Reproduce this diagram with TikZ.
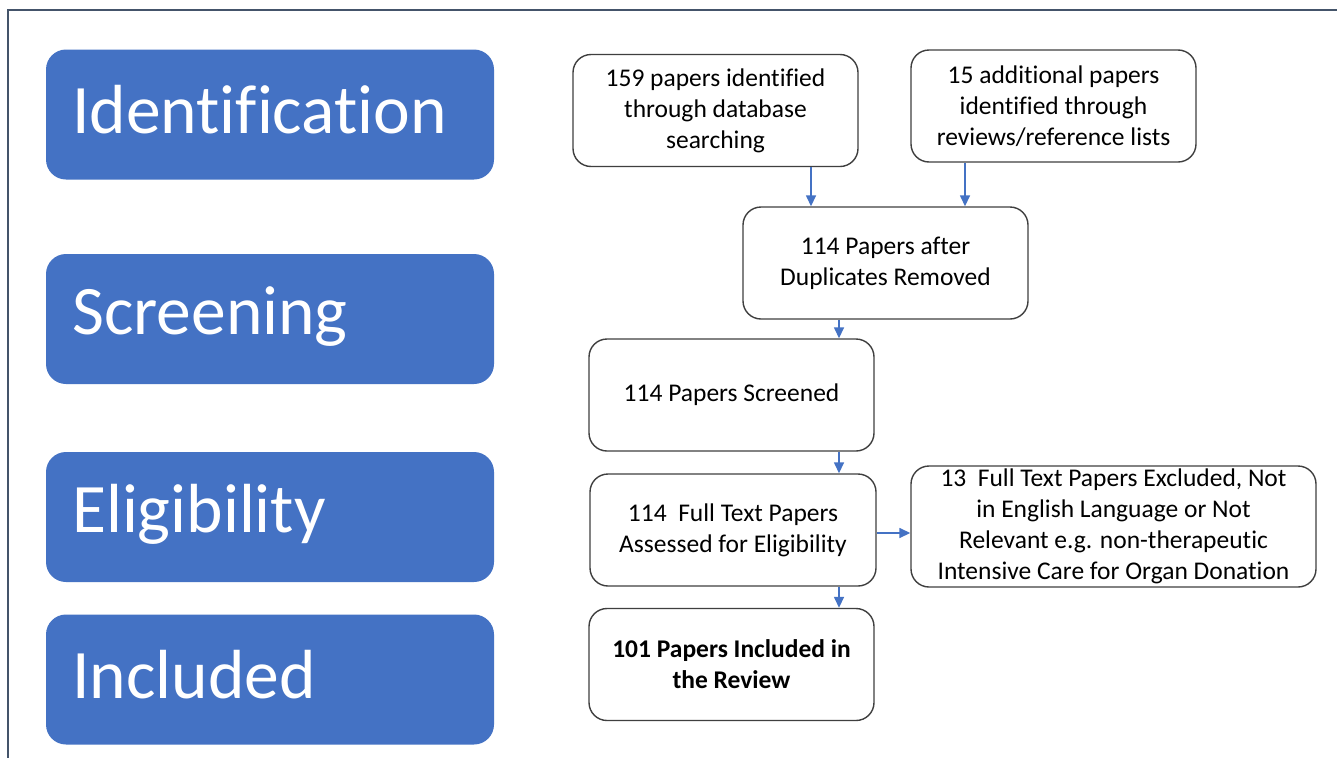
\documentclass[tikz,border=0pt]{standalone}
\usepackage{fontspec}
\setmainfont{Carlito}[Ligatures={NoCommon}]
\usetikzlibrary{arrows.meta}
\definecolor{stageblue}{HTML}{4472C4}
\definecolor{framecol}{HTML}{44546A}
\definecolor{boxline}{HTML}{3F3F3F}
\begin{document}
\begin{tikzpicture}[x=1pt,y=-1pt,
  stage/.style={fill=stageblue, rounded corners=20pt, minimum width=448pt, minimum height=130pt, inner sep=0pt},
  stagetext/.style={text=white, font=\fontsize{69.5}{80}\selectfont, anchor=west, inner sep=0pt},
  flowbox/.style={draw=boxline, line width=1.4pt, rounded corners=18pt, fill=white, align=center,
    minimum width=285pt, minimum height=112pt, inner sep=2pt, font=\fontsize{25.5}{31}\selectfont},
  arr/.style={draw=stageblue, line width=1.5pt, -{Triangle[length=11pt,width=10pt]}}
]
\useasboundingbox (0,0) rectangle (1337,758);
\fill[white] (0,0) rectangle (1337,758);

% outer frame (top and left edges)
\draw[framecol, line width=2pt] (1337,10) -- (8,10) -- (8,758);

% stage bars
\node[stage] (s1) at (270,114.5) {};
\node[stage] (s2) at (270,319) {};
\node[stage] (s3) at (270,517) {};
\node[stage] (s4) at (270,679.5) {};
\node[stagetext] (t1) at (72,110) {Identification};
\node[stagetext] (t2) at (72,317) {Screening};
\node[stagetext] (t3) at (72,514) {Eligibility};
\node[stagetext] (t4) at (72,675) {Included};

% flow boxes
\node[flowbox] (a) at (715.5,110.5) {159 papers identified\\through database\\searching};
\node[flowbox] (b) at (1053.5,106) {15 additional papers\\identified through\\reviews/reference lists};
\node[flowbox] (c) at (885.5,263) {114 Papers after\\Duplicates Removed};
\node[flowbox] (d) at (731.5,395) {114 Papers Screened};
\node[flowbox, minimum width=286pt] (e) at (733,530) {114\ \ Full Text Papers\\Assessed for Eligibility};
\node[flowbox, minimum width=405pt, minimum height=121pt] (f) at (1113.5,526.5) {13\ \ Full Text Papers Excluded, Not\\in English Language or Not\\Relevant e.g. non-therapeutic\\Intensive Care for Organ Donation};
\node[flowbox, font=\fontsize{25.5}{31}\selectfont\bfseries] (g) at (731.5,664.5) {101 Papers Included in\\the Review};

% connector columns
\coordinate (xa) at (811,0);
\coordinate (xb) at (965,0);
\coordinate (xm) at (839,0);
\coordinate (ye) at (0,533);

\draw[arr] (a.south -| xa) -- (c.north -| xa);
\draw[arr] (b.south -| xb) -- (c.north -| xb);
\draw[arr] (c.south -| xm) -- (d.north -| xm);
\draw[arr] (d.south -| xm) -- (e.north -| xm);
\draw[arr] (e.east |- ye) -- (f.west |- ye);
\draw[arr] (e.south -| xm) -- (g.north -| xm);
\end{tikzpicture}
\end{document}
